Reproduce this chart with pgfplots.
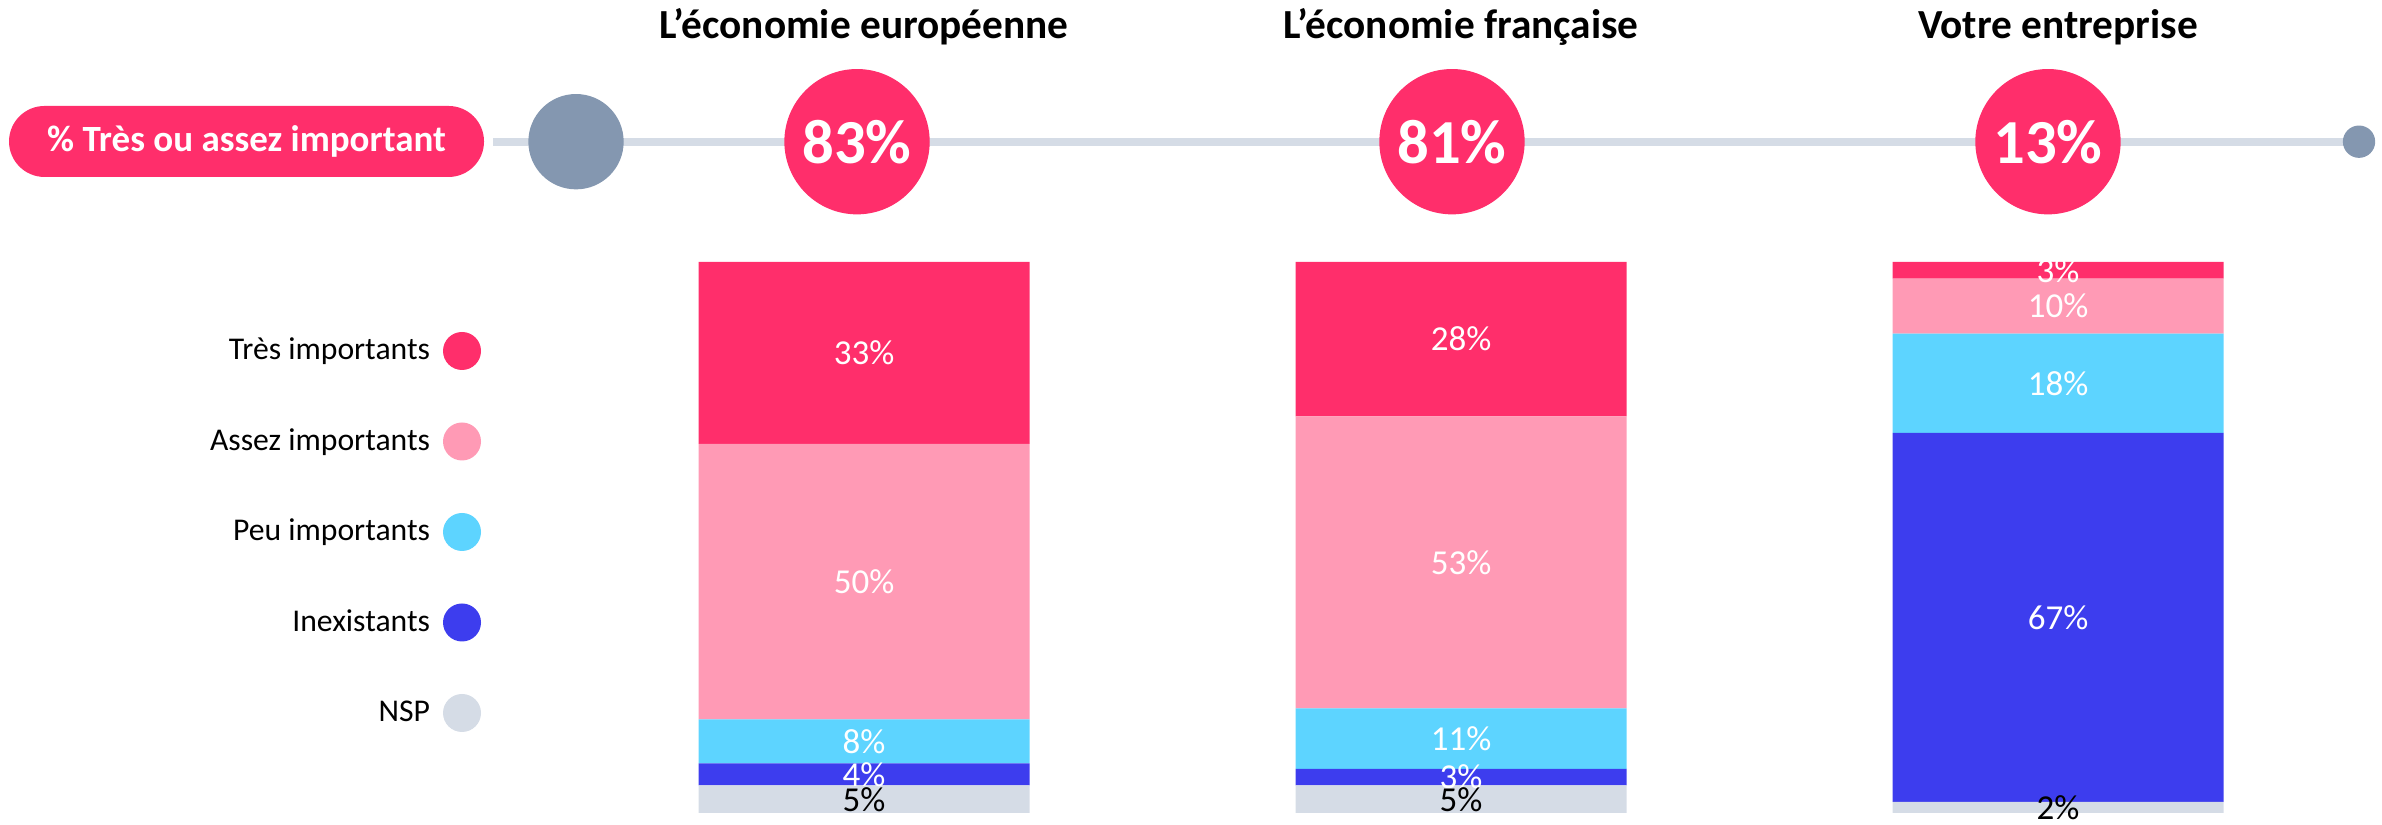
\documentclass[border=0pt]{standalone}
\usepackage{pgfplots}
\pgfplotsset{compat=1.18}
\usepackage{pgfplotstable}
\usepackage{fontspec}
\setmainfont{Carlito}
\definecolor{tres}{HTML}{FF2E6B}
\definecolor{assez}{HTML}{FF9AB5}
\definecolor{peu}{HTML}{5DD4FF}
\definecolor{inex}{HTML}{3D3DEE}
\definecolor{nsp}{HTML}{D5DCE6}
\definecolor{slate}{HTML}{8497B0}

% x: 0 = L'économie européenne, 1 = L'économie française, 2 = Votre entreprise
\pgfplotstableread{
x v
0 5
1 5
2 2
}\tnsp
\pgfplotstableread{
x v
0 4
1 3
2 67
}\tinex
\pgfplotstableread{
x v
0 8
1 11
2 18
}\tpeu
\pgfplotstableread{
x v
0 50
1 53
2 10
}\tassez
\pgfplotstableread{
x v
0 33
1 28
2 3
}\ttres

\pgfplotsset{
  base/.style={width=714.6pt, height=247.5pt, scale only axis,
    xmin=-1.44724, xmax=2.54271, ymin=-2.178, ymax=147.55,
    hide axis, enlargelimits=false, clip=false,
    /pgf/number format/assume math mode=true},
}

\begin{document}
\begin{tikzpicture}
\begin{axis}[base, ybar stacked, bar width=99.3pt,
  point meta=explicit,
  nodes near coords={\pgfmathprintnumber{\pgfplotspointmeta}\%},
  every node near coord/.append style={anchor=center,
     font=\fontsize{10.5}{12}\selectfont, text=white},
  every axis plot post/.append style={legend image code/.code={\fill[##1] (5.7pt,0pt) circle[radius=5.7pt];}},
  reverse legend,
  legend plot pos=right,
  legend cell align=right,
  legend style={at={(0.20193,0.59758)}, anchor=north east, draw=none, fill=none,
     inner sep=0pt, outer sep=0pt, row sep=15.75pt, column sep=3.9pt,
     font=\fontsize{9.5}{11}\selectfont,
     nodes={inner sep=0pt, text height=8.4pt, text depth=3pt}},
]
\addplot[fill=nsp, draw=none, nodes near coords style={text=black}] table[x=x,y=v,meta=v]{\tnsp};
\addlegendentry{NSP}
\addplot[fill=inex, draw=none] table[x=x,y=v,meta=v]{\tinex};
\addlegendentry{Inexistants}
\addplot[fill=peu, draw=none] table[x=x,y=v,meta=v]{\tpeu};
\addlegendentry{Peu importants}
\addplot[fill=assez, draw=none] table[x=x,y=v,meta=v]{\tassez};
\addlegendentry{Assez importants}
\addplot[fill=tres, draw=none] table[x=x,y=v,meta=v]{\ttres};
\addlegendentry{Très importants}
\end{axis}

\begin{axis}[base]
\addplot[nsp, line width=2.4pt] coordinates {(-0.6214,121.83) (2.5042,121.83)};
\addplot[only marks, mark=*, mark size=14.1pt, color=slate] coordinates {(-0.4824,121.83)};
\addplot[only marks, mark=*, mark size=4.65pt, color=slate] coordinates {(2.5042,121.83)};
\addplot[only marks, mark=*, mark size=21.6pt, color=tres, point meta=explicit,
  nodes near coords={\pgfmathprintnumber{\pgfplotspointmeta}\%},
  nodes near coords style={anchor=center, text=white, font=\bfseries\fontsize{18.8}{20}\selectfont}]
  coordinates {(-0.0117,121.83) [83] (0.9849,121.83) [81] (1.9832,121.83) [13]};
\node[anchor=base, font=\bfseries\fontsize{12.4}{14}\selectfont] at (axis cs:0,140.5) {L’économie européenne};
\node[anchor=base, font=\bfseries\fontsize{12.4}{14}\selectfont] at (axis cs:1,140.5) {L’économie française};
\node[anchor=base, font=\bfseries\fontsize{12.4}{14}\selectfont] at (axis cs:2,140.5) {Votre entreprise};
\node[fill=tres, rounded corners=10.65pt, minimum width=142.5pt, minimum height=21.3pt,
  inner sep=0pt, text=white, font=\bfseries\fontsize{11.1}{13}\selectfont]
  at (axis cs:-1.0343,121.87) {\% Très ou assez important};
\end{axis}
\pgfresetboundingbox
\useasboundingbox (current axis.south west) rectangle (current axis.north east);
\end{tikzpicture}
\end{document}
